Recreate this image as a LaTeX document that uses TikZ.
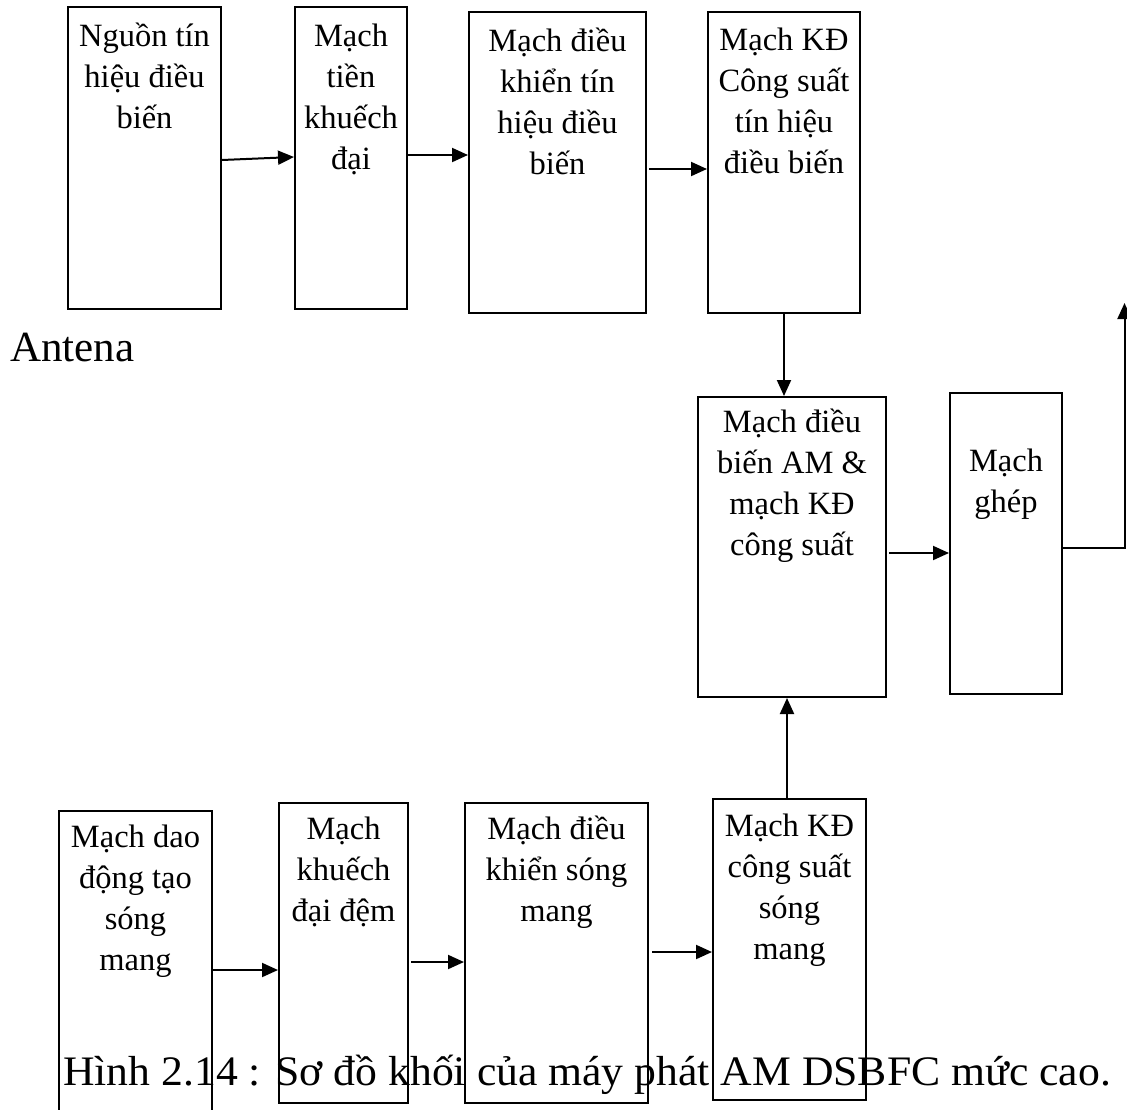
\documentclass[tikz,border=0pt]{standalone}
\usepackage{fontspec}
\setmainfont{Liberation Serif}
\usetikzlibrary{arrows.meta}

\tikzset{
  blk/.style={draw, line width=2pt, inner sep=0pt, minimum width=#1},
  lbl/.style={inner sep=0pt, anchor=base, font=\fontsize{32.5}{41}\selectfont},
  arr/.style={line width=2pt, -{Triangle[length=16pt,width=14pt]}},
}
\newcommand{\blktext}[2]{\parbox[t]{#1}{\centering #2}}

\begin{document}
\begin{tikzpicture}[x=1pt, y=-1pt]
\useasboundingbox (0,0) rectangle (1127,1109);

% upper chain: modulating signal path
\node[blk=153pt, minimum height=302pt] (b1) at (144.5,158) {};
\node[blk=112pt, minimum height=302pt] (b2) at (351,158) {};
\node[blk=177pt, minimum height=301pt] (b3) at (557.5,162.5) {};
\node[blk=152pt, minimum height=301pt] (b4) at (784,162.5) {};

% modulator and coupling stage
\node[blk=188pt, minimum height=300pt] (b5) at (792,547) {};
\node[blk=112pt, minimum height=301pt] (b6) at (1006,543.5) {};

% lower chain: carrier path
\node[blk=153pt, minimum height=309pt] (b7) at (135.5,965.5) {};
\node[blk=129pt, minimum height=300pt] (b8) at (343.5,953) {};
\node[blk=183pt, minimum height=300pt] (b9) at (556.5,953) {};
\node[blk=153pt, minimum height=301pt] (b10) at (789.5,949.5) {};

% block labels
\node[lbl] (t1) at ([yshift=-40pt]b1.north) {\blktext{150pt}{Nguồn tín\\hiệu điều\\biến}};
\node[lbl] (t2) at ([yshift=-40pt]b2.north) {\blktext{110pt}{Mạch\\tiền\\khuếch\\đại}};
\node[lbl] (t3) at ([yshift=-40pt]b3.north) {\blktext{175pt}{Mạch điều\\khiển tín\\hiệu điều\\biến}};
\node[lbl] (t4) at ([yshift=-39pt]b4.north) {\blktext{150pt}{Mạch KĐ\\Công suất\\tín hiệu\\điều biến}};
\node[lbl] (t5) at ([yshift=-36pt]b5.north) {\blktext{185pt}{Mạch điều\\biến AM \&\\mạch KĐ\\công suất}};
\node[lbl] (t6) at ([yshift=-79pt]b6.north) {\blktext{110pt}{Mạch\\ghép}};
\node[lbl] (t7) at ([yshift=-37pt]b7.north) {\blktext{150pt}{Mạch dao\\động tạo\\sóng\\mang}};
\node[lbl] (t8) at ([yshift=-37pt]b8.north) {\blktext{127pt}{Mạch\\khuếch\\đại đệm}};
\node[lbl] (t9) at ([yshift=-37pt]b9.north) {\blktext{180pt}{Mạch điều\\khiển sóng\\mang}};
\node[lbl] (t10) at ([yshift=-38pt]b10.north) {\blktext{150pt}{Mạch KĐ\\công suất\\sóng\\mang}};

% antenna label and caption
\node[inner sep=0pt, anchor=base west, font=\fontsize{43}{50}\selectfont] (antlbl) at (10,361) {Antena};
\node[inner sep=0pt, anchor=base west, font=\fontsize{42}{50}\selectfont] (cap) at (63,1085)
  {\scalebox{1.04}[1]{Hình 2.14 : Sơ đồ khối của máy phát AM DSBFC mức cao.}};

% connectors, upper chain
\draw[arr] ([yshift=-2pt]b1.east) -- ([yshift=1pt]b2.west);
\coordinate (a2s) at ([yshift=3pt]b2.east);
\draw[arr] (a2s) -- (a2s -| b3.west);
\coordinate (a3s) at ([xshift=2pt, yshift=-6.5pt]b3.east);
\draw[arr] (a3s) -- (a3s -| b4.west);
\draw[arr] (b4.south) -- (b4.south |- b5.north);

% modulator to coupling stage and out to the antenna
\coordinate (a5s) at ([xshift=2pt, yshift=-6pt]b5.east);
\draw[arr] (a5s) -- (a5s -| b6.west);
\coordinate (a6s) at ([yshift=-4.5pt]b6.east);
\coordinate (ant) at (1124.5,303);
\draw[arr] (a6s) -| (ant);

% connectors, lower chain
\coordinate (a7s) at ([yshift=-4.5pt]b7.east);
\draw[arr] (a7s) -- (a7s -| b8.west);
\coordinate (a8s) at ([xshift=2pt, yshift=-9pt]b8.east);
\draw[arr] (a8s) -- (a8s -| b9.west);
\coordinate (a9s) at ([xshift=3pt, yshift=1pt]b9.east);
\draw[arr] (a9s) -- (a9s -| b10.west);
\coordinate (a10s) at ([xshift=-2.5pt]b10.north);
\draw[arr] (a10s) -- (a10s |- b5.south);
\end{tikzpicture}
\end{document}
